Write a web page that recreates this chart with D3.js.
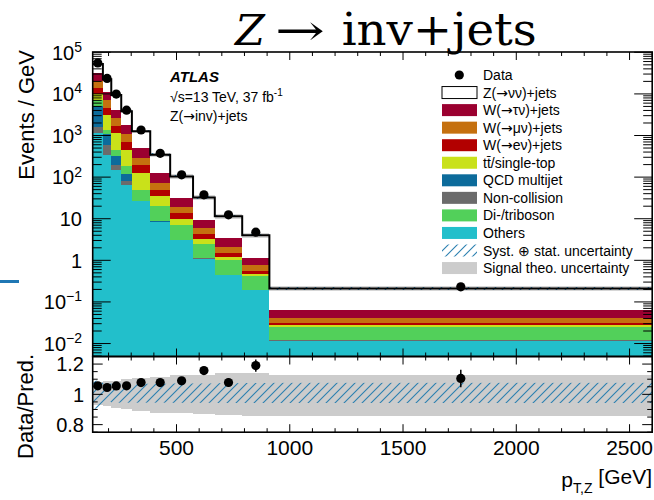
<!DOCTYPE html>
<html><head><meta charset="utf-8">
<script src="https://cdn.jsdelivr.net/npm/d3@7"></script>
<style>
body{margin:0;background:#fff}
svg{display:block}
text{font-family:"Liberation Sans",Arial,Helvetica,sans-serif;fill:#000}
</style>
</head><body>
<svg id="c" width="654" height="500"></svg>
<script>
// ---------------- data ----------------
const binEdges = [130,175,212,256,303,384,472,573,669,790,910,2600];
const others       = [1138,343,150,65,26,8.3,3.0,1.10,0.44,0.193,0.0118];
const nonCollision = [500,254,48,17,0.3,0.1,0.03,0.01,0.004,0.002,0.0001];
const qcdMultijet  = [3510,499,121,38,0.7,0.2,0.1,0.03,0.009,0.003,0.0001];
const diboson      = [2030,272,134,60,22.7,11.1,3.77,1.33,0.547,0.214,0.0132];
const ttbar        = [2800,1762,685,273,77.3,14.6,3.1,0.84,0.205,0.059,0.0034];
const wEnu         = [3720,1560,568,233,64,15.4,3.7,0.99,0.295,0.094,0.0028];
const wMunu        = [6800,2490,902,410,95,22.2,5.0,1.68,0.55,0.192,0.010];
const wTaunu       = [10800,4170,1522,707,211,53.1,12.7,3.48,1.39,0.383,0.0216];
const zNunu        = [21300,11250,5270,2047,763,222,72.6,22.9,8.06,2.86,0.146];
const dataValues   = [55550,23620,9926,4066,1358,374,113.3,37.45,12.4,4.76,0.231];
const dataRatioErr = [0.002,0.003,0.004,0.005,0.008,0.012,0.02,0.025,0.03,0.04,0.058];
const theoUp   = [1.08,1.085,1.09,1.10,1.105,1.115,1.125,1.13,1.14,1.14,1.13];
const theoDown = [0.93,0.92,0.91,0.90,0.89,0.88,0.875,0.87,0.865,0.86,0.86];
const systUp   = [1.09,1.075,1.07,1.07,1.07,1.07,1.072,1.072,1.074,1.075,1.076];
const systDown = [0.905,0.95,0.945,0.945,0.945,0.945,0.944,0.944,0.943,0.943,0.943];
const xTickLabels = [500,1000,1500,2000,2500];
const yMajorExps = [-2,-1,0,1,2,3,4,5];
const ratioTickLabels = [0.8,1,1.2];
const legendLabels = ["Data","Z(\u2192\u03bd\u03bd)+jets","W(\u2192\u03c4\u03bd)+jets","W(\u2192\u03bc\u03bd)+jets","W(\u2192e\u03bd)+jets","tt\u0304/single-top","QCD multijet","Non-collision","Di-/triboson","Others","Syst. \u2295 stat. uncertainty","Signal theo. uncertainty"];

// stack order bottom -> top
const stackSeries = [others,nonCollision,qcdMultijet,diboson,ttbar,wEnu,wMunu,wTaunu,zNunu];
const stackColors = ["#22bfcb","#6b6b6b","#0c6b9b","#52d05a","#c9e11a","#b20000","#c5700f","#9b0030","#ffffff"];

// ---------------- layout ----------------
const L = 92.7, R = 652.2, T = 52, MID = 356.5, B = 432.2;
const svg = d3.select("#c");
const defs = svg.append("defs");
defs.append("pattern").attr("id","hatch").attr("patternUnits","userSpaceOnUse")
  .attr("width",9).attr("height",9)
  .append("path").attr("d","M-2,2 L2,-2 M0,9 L9,0 M7,11 L11,7")
  .attr("stroke","#2a80b0").attr("stroke-width",1.1).attr("fill","none");
defs.append("clipPath").attr("id","clipTop").append("rect").attr("x",L).attr("y",T).attr("width",R-L).attr("height",MID-T);
defs.append("clipPath").attr("id","clipBot").append("rect").attr("x",L).attr("y",MID).attr("width",R-L).attr("height",B-MID);

const x = d3.scaleLinear().domain([130,2600]).range([L,R]);
const y = d3.scaleLog().domain([0.00488,1.017e5]).range([MID,T]).clamp(true);
const yr = d3.scaleLinear().domain([0.75,1.25]).range([B,MID]);

const nb = binEdges.length-1;
const bins = d3.range(nb);
const totals = bins.map(i => d3.sum(stackSeries, s => s[i]));
const bx = i => Math.round(x(binEdges[i]));
const bw = i => Math.round(x(binEdges[i+1])) - Math.round(x(binEdges[i]));

// ---------------- upper panel ----------------
const gTop = svg.append("g").attr("clip-path","url(#clipTop)").attr("shape-rendering","crispEdges");
bins.forEach(i => {
  let cum = 0;
  stackSeries.forEach((s,k) => {
    const lo = cum, hi = cum + s[i];
    cum = hi;
    gTop.append("rect")
      .attr("x", bx(i)).attr("width", bw(i))
      .attr("y", y(hi)).attr("height", Math.max(0, (lo>0? y(lo): MID) - y(hi)))
      .attr("fill", stackColors[k]);
  });
});
// uncertainty bands around total
bins.forEach(i => {
  gTop.append("rect").attr("x", bx(i)).attr("width", bw(i))
    .attr("y", y(totals[i]*theoUp[i])).attr("height", y(totals[i]*theoDown[i]) - y(totals[i]*theoUp[i]))
    .attr("fill","#cccccc").attr("opacity",0.8);
  gTop.append("rect").attr("x", bx(i)).attr("width", bw(i))
    .attr("y", y(totals[i]*systUp[i])).attr("height", y(totals[i]*systDown[i]) - y(totals[i]*systUp[i]))
    .attr("fill","url(#hatch)");
});
// total step line
const gTop2 = svg.append("g").attr("clip-path","url(#clipTop)");
const stepPts = bins.map(i => [binEdges[i], totals[i]]).concat([[binEdges[nb], totals[nb-1]]]);
gTop2.append("path").datum(stepPts)
  .attr("d", d3.line().x(d => x(d[0])).y(d => y(d[1])).curve(d3.curveStepAfter))
  .attr("fill","none").attr("stroke","#000").attr("stroke-width",2);
// data points
bins.forEach(i => {
  const cx = x((binEdges[i]+binEdges[i+1])/2);
  const e = dataRatioErr[i]*totals[i];
  gTop2.append("line").attr("x1",cx).attr("x2",cx).attr("y1",y(dataValues[i]+e)).attr("y2",y(dataValues[i]-e)).attr("stroke","#000").attr("stroke-width",1.5);
  gTop2.append("circle").attr("cx",cx).attr("cy",y(dataValues[i])).attr("r",4.6).attr("fill","#000");
});

// ---------------- ratio panel ----------------
const gBot = svg.append("g").attr("clip-path","url(#clipBot)");
const gBotBands = gBot.append("g").attr("shape-rendering","crispEdges");
bins.forEach(i => {
  gBotBands.append("rect").attr("x", bx(i)).attr("width", bw(i))
    .attr("y", yr(theoUp[i])).attr("height", yr(theoDown[i]) - yr(theoUp[i])).attr("fill","#cccccc");
});
bins.forEach(i => {
  gBot.append("rect").attr("x", bx(i)).attr("width", bw(i))
    .attr("y", yr(systUp[i])).attr("height", yr(systDown[i]) - yr(systUp[i])).attr("fill","url(#hatch)");
});
bins.forEach(i => {
  const cx = x((binEdges[i]+binEdges[i+1])/2);
  const r = dataValues[i]/totals[i];
  gBot.append("line").attr("x1",cx).attr("x2",cx).attr("y1",yr(r+dataRatioErr[i])).attr("y2",yr(r-dataRatioErr[i])).attr("stroke","#000").attr("stroke-width",1.5);
  gBot.append("circle").attr("cx",cx).attr("cy",yr(r)).attr("r",4.6).attr("fill","#000");
});

// ---------------- axes ----------------
const axG = svg.append("g").attr("stroke","#000").attr("fill","none");
function ticksX(yPos, len) {
  d3.range(200,2601,100).forEach(v => {
    const major = v % 500 === 0;
    const l = (major?8:4)*len;
    axG.append("line").attr("x1",x(v)).attr("x2",x(v)).attr("y1",yPos).attr("y2",yPos+l).attr("stroke-width",1);
  });
}
ticksX(T, 1); ticksX(MID, -1); ticksX(MID, 1); ticksX(B, -1);
// log y ticks
const logMinor = [];
for (let e=-3;e<=5;e++){ for (let k=2;k<=9;k++){ const v=+(k*Math.pow(10,e)).toPrecision(3); if (v>=0.00488 && v<=1.017e5) logMinor.push(v);} }
logMinor.forEach(v => {
  [[L,1],[R,-1]].forEach(([xp,dir]) => axG.append("line").attr("x1",xp).attr("x2",xp+9*dir).attr("y1",y(v)).attr("y2",y(v)).attr("stroke-width",1));
});
yMajorExps.forEach(e => {
  const v = Math.pow(10,e);
  [[L,1],[R,-1]].forEach(([xp,dir]) => axG.append("line").attr("x1",xp).attr("x2",xp+18*dir).attr("y1",y(v)).attr("y2",y(v)).attr("stroke-width",1));
});
// ratio y ticks
d3.range(0.75,1.2501,0.05).forEach(v => {
  const major = Math.abs(v*10 - Math.round(v*10))<1e-6 && Math.round(v*10)%2===0;
  [[L,1],[R,-1]].forEach(([xp,dir]) => axG.append("line").attr("x1",xp).attr("x2",xp+(major?10:5)*dir).attr("y1",yr(v)).attr("y2",yr(v)).attr("stroke-width",1));
});
// frames
axG.append("rect").attr("x",L).attr("y",T).attr("width",R-L).attr("height",MID-T).attr("stroke-width",1.6);
axG.append("rect").attr("x",L).attr("y",MID).attr("width",R-L).attr("height",B-MID).attr("stroke-width",1.6);

// helper: put arrows in a font with a wide arrow glyph
function richText(sel, str) {
  str.split(/(\u2192)/).forEach(part => {
    if (!part) return;
    const t = sel.append("tspan").text(part);
    if (part === "\u2192") t.style("font-family","'DejaVu Sans',sans-serif");
  });
}

// tick labels
const lab = svg.append("g");
yMajorExps.forEach(e => {
  const t = lab.append("text").attr("x",82).attr("y",y(Math.pow(10,e))).attr("dy","0.36em").attr("text-anchor","end").attr("font-size",20);
  if (e === 0) t.text("1");
  else if (e === 1) t.text("10");
  else { t.append("tspan").text("10"); t.append("tspan").attr("font-size",14).attr("dy","-0.55em").text(e<0?"\u2212"+(-e):String(e)); }
});
ratioTickLabels.forEach(v => {
  lab.append("text").attr("x",84).attr("y",yr(v)).attr("dy","0.36em").attr("text-anchor","end").attr("font-size",20).text(String(v));
});
xTickLabels.forEach(v => {
  lab.append("text").attr("x",x(v)).attr("y",455).attr("text-anchor","middle").attr("font-size",21).text(String(v));
});
// axis titles
lab.append("text").attr("transform","translate(34,50) rotate(-90)").attr("text-anchor","end").attr("font-size",22).text("Events / GeV");
lab.append("text").attr("transform","translate(33,459) rotate(-90)").attr("text-anchor","start").attr("font-size",22).text("Data/Pred.");
const xt = lab.append("text").attr("x",652).attr("y",487).attr("text-anchor","end").attr("font-size",21);
xt.append("tspan").text("p");
xt.append("tspan").attr("font-size",14).attr("dy","0.4em").text("T,Z");
xt.append("tspan").attr("dy","-0.4em").attr("font-size",21).text(" [GeV]");

// title
const serif = "'DejaVu Serif',serif";
lab.append("text").attr("x",235).attr("y",45).attr("font-size",43).attr("font-style","italic").style("font-family",serif).text("Z");
lab.append("text").attr("x",275).attr("y",45).attr("font-size",43).style("font-family",serif)
  .attr("textLength",50).attr("lengthAdjust","spacingAndGlyphs").text("\u2192");
lab.append("text").attr("x",341.7).attr("y",45).attr("font-size",44).style("font-family",serif)
  .attr("textLength",195).attr("lengthAdjust","spacingAndGlyphs").text("inv+jets");

// ATLAS label
lab.append("text").attr("x",170).attr("y",82).attr("font-size",15).attr("font-weight","bold").attr("font-style","italic").text("ATLAS");
const s2 = lab.append("text").attr("x",170).attr("y",102).attr("font-size",14);
s2.append("tspan").text("\u221as=13 TeV, 37 fb");
s2.append("tspan").attr("font-size",10).attr("dy","-0.6em").text("-1");
richText(lab.append("text").attr("x",170).attr("y",121).attr("font-size",14), "Z(\u2192inv)+jets");

// legend
const legendFills = [null,"#ffffff","#9b0030","#c5700f","#b20000","#c9e11a","#0c6b9b","#6b6b6b","#52d05a","#22bfcb","url(#hatch)","#cccccc"];
const lg = svg.append("g");
legendLabels.forEach((name,i) => {
  const cy = 75 + i*17.55;
  if (i === 0) {
    lg.append("circle").attr("cx",459.3).attr("cy",cy).attr("r",4.6).attr("fill","#000");
  } else {
    lg.append("rect").attr("x",442).attr("y",cy-6).attr("width",35).attr("height",12)
      .attr("fill",legendFills[i]).attr("stroke", i===1 ? "#000" : "none").attr("stroke-width",1);
  }
  richText(lg.append("text").attr("x",483).attr("y",cy+5).attr("font-size",14), name);
});

// stray blue line on the left
svg.append("line").attr("x1",0).attr("x2",19).attr("y1",281.5).attr("y2",281.5).attr("stroke","#1f77b4").attr("stroke-width",3);
</script>
</body></html>
